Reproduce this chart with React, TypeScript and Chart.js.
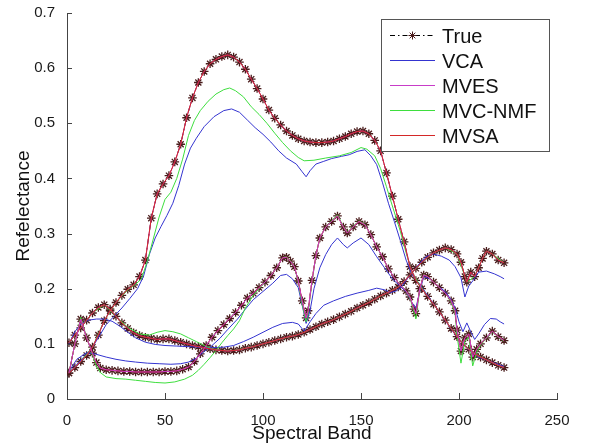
import React, { useEffect, useRef } from "react";
import { Chart, registerables } from "chart.js";

Chart.register(...registerables);

const xTicks = [0, 50, 100, 150, 200, 250];
const yTicks = [0, 0.1, 0.2, 0.3, 0.4, 0.5, 0.6, 0.7];
const yTickLabels = ["0", "0.1", "0.2", "0.3", "0.4", "0.5", "0.6", "0.7"];
const legendLabels = ["True", "VCA", "MVES", "MVC-NMF", "MVSA"];
const xTitle = "Spectral Band";
const yTitle = "Refelectance";

// ---- True spectra ----
const bandsTrueE1 = [1, 4, 7, 10, 13, 16, 19, 22, 25, 28, 31, 34, 37, 40, 43, 46, 49, 52, 55, 58, 61, 64, 67, 70, 73, 76, 79, 82, 85, 88, 91, 94, 97, 100, 103, 106, 109, 112, 115, 118, 121, 124, 127, 130, 133, 136, 139, 142, 145, 148, 151, 154, 157, 160, 163, 166, 169, 172, 175, 178, 181, 184, 187, 190, 193, 196, 199, 202, 205, 208, 211, 214, 217, 220, 223];
const trueE1 = [0.047, 0.057, 0.068, 0.079, 0.094, 0.116, 0.142, 0.16, 0.175, 0.188, 0.199, 0.207, 0.222, 0.252, 0.328, 0.372, 0.39, 0.405, 0.43, 0.462, 0.51, 0.546, 0.574, 0.594, 0.608, 0.616, 0.621, 0.624, 0.62, 0.611, 0.598, 0.58, 0.563, 0.544, 0.524, 0.509, 0.497, 0.486, 0.478, 0.472, 0.468, 0.466, 0.465, 0.465, 0.466, 0.468, 0.472, 0.476, 0.481, 0.485, 0.486, 0.481, 0.469, 0.45, 0.41, 0.368, 0.326, 0.285, 0.24, 0.215, 0.2, 0.186, 0.172, 0.158, 0.143, 0.128, 0.113, 0.1, 0.09, 0.082, 0.076, 0.071, 0.066, 0.061, 0.057];

const bandsTrueE2 = [1, 4, 7, 10, 13, 16, 19, 22, 25, 28, 31, 34, 37, 40, 43, 46, 49, 52, 55, 58, 61, 64, 67, 70, 73, 76, 79, 82, 85, 88, 91, 94, 97, 100, 103, 106, 109, 112, 115, 118, 121, 124, 127, 130, 133, 136, 139, 142, 145, 148, 151, 154, 157, 160, 163, 166, 169, 172, 175, 178, 181, 184, 187, 190, 193, 196, 199, 201, 203, 204, 206, 208, 210, 212, 214, 217, 220, 223];
const trueE2 = [0.102, 0.116, 0.129, 0.143, 0.156, 0.166, 0.171, 0.163, 0.15, 0.138, 0.128, 0.12, 0.115, 0.112, 0.11, 0.108, 0.109, 0.109, 0.106, 0.103, 0.1, 0.097, 0.095, 0.093, 0.091, 0.089, 0.088, 0.087, 0.088, 0.089, 0.092, 0.094, 0.097, 0.1, 0.103, 0.106, 0.109, 0.112, 0.114, 0.117, 0.121, 0.126, 0.131, 0.136, 0.14, 0.144, 0.149, 0.154, 0.159, 0.165, 0.17, 0.175, 0.181, 0.187, 0.192, 0.197, 0.203, 0.213, 0.225, 0.237, 0.248, 0.257, 0.265, 0.27, 0.274, 0.271, 0.263, 0.248, 0.222, 0.212, 0.23, 0.222, 0.238, 0.255, 0.268, 0.263, 0.252, 0.247];

const bandsTrueE3 = [1, 4, 7, 10, 13, 15, 17, 20, 23, 26, 29, 32, 35, 38, 41, 44, 47, 50, 53, 56, 59, 62, 65, 68, 71, 74, 77, 80, 83, 86, 89, 92, 95, 98, 101, 104, 107, 110, 112, 114, 116, 118, 120, 122, 123, 125, 127, 129, 132, 135, 138, 141, 143, 146, 149, 152, 155, 158, 161, 164, 167, 170, 173, 175, 177, 178, 180, 182, 184, 187, 190, 193, 196, 198, 199, 201, 203, 205, 207, 209, 211, 214, 217, 220, 223];
const trueE3 = [0.047, 0.1, 0.145, 0.111, 0.083, 0.066, 0.056, 0.053, 0.052, 0.051, 0.05, 0.05, 0.049, 0.049, 0.049, 0.049, 0.049, 0.05, 0.05, 0.051, 0.054, 0.058, 0.068, 0.082, 0.097, 0.112, 0.124, 0.135, 0.146, 0.157, 0.17, 0.183, 0.192, 0.202, 0.212, 0.224, 0.238, 0.256, 0.257, 0.25, 0.24, 0.214, 0.178, 0.147, 0.16, 0.215, 0.26, 0.292, 0.312, 0.322, 0.332, 0.312, 0.301, 0.312, 0.322, 0.316, 0.298, 0.276, 0.258, 0.236, 0.22, 0.206, 0.196, 0.185, 0.163, 0.155, 0.2, 0.225, 0.222, 0.212, 0.202, 0.192, 0.178, 0.16, 0.125, 0.087, 0.111, 0.118, 0.076, 0.09, 0.1, 0.111, 0.123, 0.113, 0.106];

// ---- VCA ----
const bandsVcaE1 = [1, 8, 13, 17, 20, 24, 28, 32, 36, 39, 42, 45, 48, 51, 54, 57, 60, 63, 66, 70, 75, 80, 84, 88, 92, 96, 100, 104, 108, 112, 117, 120, 122, 124, 127, 131, 135, 140, 144, 148, 152, 155, 158, 161, 164, 167, 170, 173, 176, 180, 186, 192, 198, 204, 210, 216, 223];
const vcaE1 = [0.047, 0.074, 0.094, 0.117, 0.135, 0.15, 0.165, 0.182, 0.2, 0.222, 0.262, 0.292, 0.313, 0.333, 0.355, 0.387, 0.426, 0.455, 0.473, 0.494, 0.512, 0.523, 0.526, 0.52, 0.506, 0.492, 0.48, 0.466, 0.45, 0.437, 0.426, 0.412, 0.403, 0.414, 0.426, 0.431, 0.436, 0.44, 0.443, 0.449, 0.452, 0.441, 0.425, 0.392, 0.355, 0.322, 0.288, 0.252, 0.226, 0.208, 0.178, 0.147, 0.117, 0.092, 0.076, 0.068, 0.059];

const bandsVcaE2 = [1, 4, 7, 11, 15, 19, 23, 27, 31, 35, 40, 45, 50, 56, 62, 68, 74, 80, 85, 90, 95, 100, 105, 110, 115, 118, 121, 124, 127, 131, 136, 142, 148, 154, 158, 162, 165, 168, 171, 175, 179, 183, 187, 191, 195, 198, 201, 203, 205, 207, 210, 214, 218, 221, 223];
const vcaE2 = [0.1, 0.122, 0.136, 0.143, 0.145, 0.145, 0.141, 0.132, 0.121, 0.111, 0.103, 0.099, 0.097, 0.096, 0.095, 0.094, 0.093, 0.094, 0.097, 0.104, 0.112, 0.121, 0.13, 0.137, 0.139, 0.136, 0.123, 0.14, 0.155, 0.17, 0.178, 0.186, 0.192, 0.197, 0.201, 0.198, 0.193, 0.196, 0.205, 0.225, 0.242, 0.258, 0.263, 0.259, 0.252, 0.24, 0.22, 0.185, 0.205, 0.214, 0.23, 0.232, 0.227, 0.222, 0.218];

const bandsVcaE3 = [1, 5, 10, 14, 20, 25, 30, 35, 41, 47, 53, 58, 62, 66, 70, 74, 78, 82, 87, 91, 95, 100, 105, 109, 112, 115, 118, 120, 122, 124, 126, 129, 132, 135, 138, 141, 143, 146, 150, 154, 158, 162, 166, 170, 173, 176, 178, 180, 182, 185, 189, 193, 196, 198, 200, 202, 204, 206, 208, 210, 213, 216, 219, 221, 223];
const vcaE3 = [0.05, 0.072, 0.084, 0.082, 0.076, 0.072, 0.069, 0.067, 0.065, 0.064, 0.063, 0.064, 0.067, 0.074, 0.086, 0.097, 0.11, 0.126, 0.145, 0.163, 0.18, 0.195, 0.21, 0.224, 0.226, 0.218, 0.202, 0.17, 0.137, 0.16, 0.2, 0.238, 0.262, 0.28, 0.292, 0.28, 0.274, 0.283, 0.292, 0.28, 0.258, 0.238, 0.218, 0.204, 0.195, 0.175, 0.165, 0.195, 0.222, 0.218, 0.205, 0.195, 0.18, 0.165, 0.14, 0.122, 0.138, 0.122, 0.108, 0.118, 0.135, 0.146, 0.145, 0.14, 0.136];

// ---- MVC-NMF ----
const bandsNmfE1 = [1, 7, 13, 19, 25, 31, 35, 38, 41, 44, 47, 50, 53, 56, 59, 62, 65, 68, 72, 76, 80, 83, 86, 90, 94, 98, 102, 106, 110, 114, 118, 121, 126, 132, 139, 145, 150, 153, 157, 160, 163, 166, 170, 173, 176, 179, 184, 190, 196, 202, 208, 214, 220, 223];
const nmfE1 = [0.047, 0.068, 0.094, 0.142, 0.175, 0.198, 0.208, 0.218, 0.25, 0.29, 0.33, 0.362, 0.375, 0.4, 0.435, 0.478, 0.505, 0.523, 0.54, 0.553, 0.561, 0.564, 0.559, 0.548, 0.53, 0.516, 0.5, 0.482, 0.465, 0.45, 0.438, 0.432, 0.433, 0.437, 0.441, 0.447, 0.456, 0.453, 0.441, 0.418, 0.385, 0.35, 0.305, 0.265, 0.23, 0.212, 0.186, 0.158, 0.128, 0.1, 0.082, 0.071, 0.061, 0.057];

const bandsNmfE2 = [1, 7, 13, 19, 25, 31, 37, 42, 46, 50, 54, 58, 62, 66, 70, 74, 79, 85, 91, 97, 103, 109, 115, 121, 127, 133, 139, 145, 151, 157, 163, 169, 175, 181, 187, 193, 199, 203, 204, 208, 212, 214, 217, 223];
const nmfE2 = [0.102, 0.129, 0.156, 0.171, 0.15, 0.13, 0.118, 0.116, 0.121, 0.124, 0.122, 0.118, 0.111, 0.104, 0.097, 0.091, 0.088, 0.088, 0.092, 0.097, 0.103, 0.109, 0.114, 0.121, 0.131, 0.14, 0.149, 0.159, 0.17, 0.181, 0.192, 0.203, 0.225, 0.248, 0.265, 0.274, 0.263, 0.222, 0.212, 0.222, 0.255, 0.268, 0.263, 0.247];

const bandsNmfE3 = [1, 4, 7, 10, 13, 15, 17, 20, 25, 30, 35, 40, 45, 50, 55, 60, 64, 67, 70, 73, 76, 79, 82, 85, 88, 91, 95, 98, 101, 104, 107, 110, 112, 114, 116, 118, 120, 122, 123, 125, 127, 129, 132, 135, 138, 141, 143, 146, 149, 152, 155, 158, 161, 164, 167, 170, 173, 175, 177, 178, 180, 182, 184, 187, 190, 193, 196, 198, 199, 201, 203, 205, 207, 209, 211, 214, 217, 220, 223];
const nmfE3 = [0.047, 0.1, 0.148, 0.112, 0.08, 0.06, 0.048, 0.04, 0.037, 0.036, 0.034, 0.032, 0.03, 0.029, 0.031, 0.036, 0.043, 0.052, 0.063, 0.075, 0.088, 0.102, 0.115, 0.127, 0.142, 0.165, 0.188, 0.2, 0.212, 0.224, 0.238, 0.256, 0.258, 0.251, 0.24, 0.212, 0.172, 0.14, 0.155, 0.212, 0.26, 0.292, 0.312, 0.323, 0.334, 0.313, 0.302, 0.313, 0.323, 0.317, 0.298, 0.276, 0.258, 0.236, 0.22, 0.206, 0.196, 0.183, 0.158, 0.145, 0.198, 0.226, 0.222, 0.212, 0.202, 0.192, 0.176, 0.155, 0.115, 0.065, 0.105, 0.112, 0.06, 0.085, 0.098, 0.11, 0.122, 0.112, 0.105];

// ---- MVES and MVSA coincide with the true spectra in the picture ----
const mvesE1 = trueE1;
const mvesE2 = trueE2;
const mvesE3 = trueE3;
const mvsaE1 = trueE1;
const mvsaE2 = trueE2;
const mvsaE3 = trueE3;

const COL_TRUE = "#000000";
const COL_STAR = "#4a1c1c";
const COL_VCA = "#3434d0";
const COL_MVES = "#c83cc8";
const COL_NMF = "#3ede3e";
const COL_MVSA = "#d42828";
const FONT = "'Liberation Sans', Arial, Helvetica, sans-serif";

function pts(bands: number[], vals: number[]) {
  return bands.map((b, i) => ({ x: b, y: vals[i] }));
}

function drawStar(ctx: CanvasRenderingContext2D, x: number, y: number, r: number) {
  ctx.beginPath();
  ctx.moveTo(x - r, y);
  ctx.lineTo(x + r, y);
  ctx.moveTo(x, y - r);
  ctx.lineTo(x, y + r);
  const d = r * 0.7071;
  ctx.moveTo(x - d, y - d);
  ctx.lineTo(x + d, y + d);
  ctx.moveTo(x - d, y + d);
  ctx.lineTo(x + d, y - d);
  ctx.stroke();
}

const decorPlugin = {
  id: "decor",
  afterDraw(chart: any) {
    const ctx: CanvasRenderingContext2D = chart.ctx;
    const xs = chart.scales.x;
    const ys = chart.scales.y;
    const area = chart.chartArea;
    ctx.save();
    // inward ticks
    ctx.strokeStyle = "#444";
    ctx.lineWidth = 1;
    ctx.beginPath();
    yTicks.forEach((v) => {
      const py = Math.round(ys.getPixelForValue(v)) + 0.5;
      ctx.moveTo(area.left, py);
      ctx.lineTo(area.left + 5, py);
    });
    xTicks.forEach((v) => {
      const px = Math.round(xs.getPixelForValue(v)) + 0.5;
      ctx.moveTo(px, area.bottom);
      ctx.lineTo(px, area.bottom - 6);
    });
    ctx.stroke();

    // axis titles
    ctx.fillStyle = "#111";
    ctx.font = `19px ${FONT}`;
    ctx.textAlign = "center";
    ctx.textBaseline = "alphabetic";
    ctx.fillText(xTitle, (area.left + area.right) / 2, 439);
    ctx.save();
    ctx.translate(29, (area.top + area.bottom) / 2);
    ctx.rotate(-Math.PI / 2);
    ctx.fillText(yTitle, 0, 0);
    ctx.restore();

    // legend
    const bx = 381.5, by = 19.5, bw = 168, bh = 132;
    ctx.fillStyle = "#ffffff";
    ctx.fillRect(bx, by, bw, bh);
    ctx.strokeStyle = "#555";
    ctx.lineWidth = 1;
    ctx.strokeRect(bx, by, bw, bh);
    const cols = [COL_TRUE, COL_VCA, COL_MVES, COL_NMF, COL_MVSA];
    ctx.font = `20px ${FONT}`;
    ctx.textAlign = "left";
    ctx.textBaseline = "alphabetic";
    legendLabels.forEach((lab, i) => {
      const cy = 35.5 + i * 25;
      ctx.strokeStyle = cols[i];
      ctx.lineWidth = 1;
      if (i === 0) ctx.setLineDash([5, 3, 1.5, 3]);
      else ctx.setLineDash([]);
      ctx.beginPath();
      ctx.moveTo(390, cy);
      ctx.lineTo(435, cy);
      ctx.stroke();
      ctx.setLineDash([]);
      if (i === 0) {
        ctx.strokeStyle = COL_STAR;
        drawStar(ctx, 412.5, cy, 4);
      }
      ctx.fillStyle = "#111";
      ctx.fillText(lab, 442, cy + 7);
    });
    ctx.restore();
  },
};

export default function App() {
  const ref = useRef<HTMLCanvasElement | null>(null);

  useEffect(() => {
    if (!ref.current) return;
    const trueDs = (data: any) => ({
      data,
      borderColor: COL_TRUE,
      borderWidth: 1,
      borderDash: [6, 3, 2, 3],
      pointStyle: "star",
      pointRadius: 4.3,
      pointBorderColor: COL_STAR,
      pointBorderWidth: 1.3,
      pointBackgroundColor: COL_STAR,
      order: 10,
    });
    const lineDs = (data: any, color: string, order: number) => ({
      data,
      borderColor: color,
      borderWidth: 1,
      pointRadius: 0,
      order,
    });
    const datasets: any[] = [
      trueDs(pts(bandsTrueE1, trueE1)),
      trueDs(pts(bandsTrueE2, trueE2)),
      trueDs(pts(bandsTrueE3, trueE3)),
      lineDs(pts(bandsVcaE1, vcaE1), COL_VCA, 5),
      lineDs(pts(bandsVcaE2, vcaE2), COL_VCA, 5),
      lineDs(pts(bandsVcaE3, vcaE3), COL_VCA, 5),
      lineDs(pts(bandsTrueE1, mvesE1), COL_MVES, 3),
      lineDs(pts(bandsTrueE2, mvesE2), COL_MVES, 3),
      lineDs(pts(bandsTrueE3, mvesE3), COL_MVES, 0),
      lineDs(pts(bandsNmfE1, nmfE1), COL_NMF, 4),
      lineDs(pts(bandsNmfE2, nmfE2), COL_NMF, 4),
      lineDs(pts(bandsNmfE3, nmfE3), COL_NMF, 4),
      lineDs(pts(bandsTrueE1, mvsaE1), COL_MVSA, 2),
      lineDs(pts(bandsTrueE2, mvsaE2), COL_MVSA, 2),
      lineDs(pts(bandsTrueE3, mvsaE3), COL_MVSA, 2),
    ];
    const tickFont = { family: FONT, size: 15 };
    const chart = new Chart(ref.current, {
      type: "line",
      data: { datasets },
      options: {
        animation: false,
        responsive: false,
        maintainAspectRatio: false,
        parsing: false,
        normalized: true,
        layout: { padding: { top: 12, right: 32, left: 0, bottom: 0 } },
        plugins: { legend: { display: false }, tooltip: { enabled: false } },
        elements: { line: { tension: 0 } },
        scales: {
          x: {
            type: "linear",
            min: 0,
            max: 250,
            grid: { display: false },
            border: { display: true, color: "#444", width: 1 },
            afterBuildTicks: (s: any) => {
              s.ticks = xTicks.map((v) => ({ value: v }));
            },
            afterFit: (s: any) => {
              s.height = 45;
            },
            ticks: { color: "#1a1a1a", font: tickFont, padding: 5, maxRotation: 0, autoSkip: false },
          },
          y: {
            type: "linear",
            min: 0,
            max: 0.7,
            grid: { display: false },
            border: { display: true, color: "#444", width: 1 },
            afterBuildTicks: (s: any) => {
              s.ticks = yTicks.map((v) => ({ value: v }));
            },
            afterFit: (s: any) => {
              s.width = 67;
            },
            ticks: {
              color: "#1a1a1a",
              font: tickFont,
              padding: 4,
              autoSkip: false,
              callback: (_v: any, i: number) => yTickLabels[i],
            },
          },
        },
      } as any,
      plugins: [decorPlugin],
    });
    return () => chart.destroy();
  }, []);

  return (
    <div style={{ position: "fixed", left: 0, top: 0, width: 589, height: 444, background: "#fff" }}>
      <canvas ref={ref} width={589} height={444} style={{ display: "block", width: 589, height: 444 }} />
    </div>
  );
}
